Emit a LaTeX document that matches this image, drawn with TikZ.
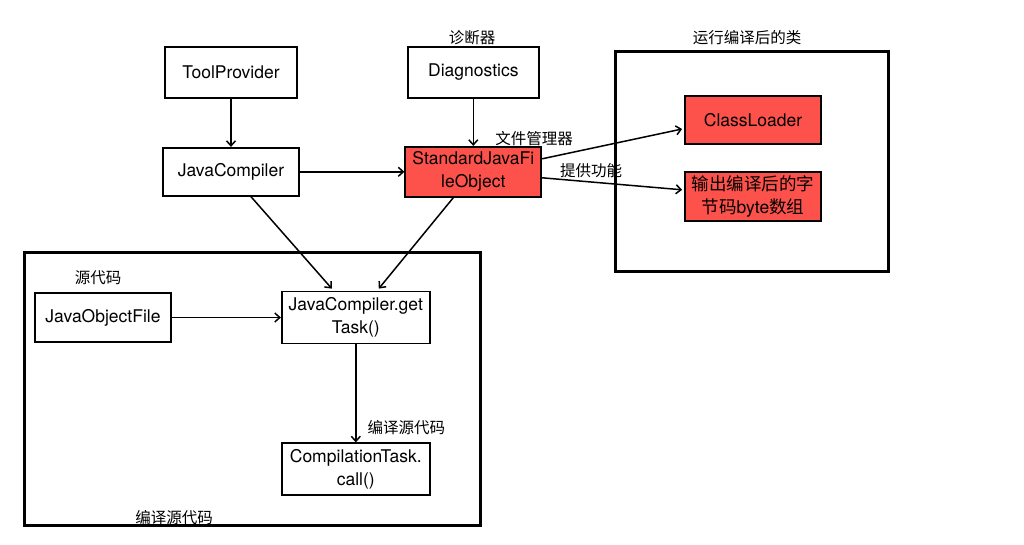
\documentclass[tikz,border=0pt]{standalone}
\usepackage{fontspec}
\setmainfont{TeX Gyre Heros}
\newfontfamily\cjk{Noto Sans CJK SC}
\usetikzlibrary{arrows.meta, positioning}
\definecolor{boxred}{RGB}{252,82,75}

\begin{document}
\begin{tikzpicture}[x=1pt, y=-1pt,
node distance = 48pt and 109pt,
box/.style = {draw, line width=1.8pt, fill=white,
              minimum width=136pt, minimum height=49pt,
              inner sep=2pt, align=center,
              font=\fontsize{17.5}{23}\selectfont},
redbox/.style = {box, fill=boxred},
frame/.style = {draw, line width=3pt},
lbl/.style = {inner sep=1pt, font=\cjk\fontsize{15.5}{17}\selectfont},
arr/.style = {line width=1.5pt, -{Straight Barb[length=5pt,width=9pt]}},
                    ]
%---
\useasboundingbox (0,0) rectangle (1024,545);

% frames
\node (runbox) [frame, minimum width=273pt, minimum height=219pt] at (751.5,161.5) {};
\node (runlbl) [lbl] at (747,38) {运行编译后的类};
\node (srcbox) [frame, minimum width=456pt, minimum height=273pt] at (252,388.5) {};
\node (srclbl) [lbl] at (174,518) {编译源代码};

\node (tool) [box, minimum width=132pt, minimum height=51pt] at (231,72.5) {ToolProvider};
\node (diag) [box, minimum width=131pt, minimum height=51pt, right=109pt of tool] {Diagnostics};
\node (diaglbl) [lbl] at (472,38) {诊断器};

\node (jc) [box, minimum height=48pt, below=48pt of tool] {JavaCompiler};
\node (sjfo) [redbox, minimum height=50pt, below=47pt of diag] {StandardJavaFi\\leObject};

\node (cl) [redbox, minimum height=48pt] at (753,120) {ClassLoader};
\node (out) [redbox, below=26pt of cl] {{\cjk 输出编译后的字}\\{\cjk 节码}byte{\cjk 数组}};

\node (jof) [box] at (103,317.5) {JavaObjectFile};
\node (joflbl) [lbl] at (98,278) {源代码};
\node (task) [box, minimum width=148pt, minimum height=52pt, right=109pt of jof] {JavaCompiler.get\\Task()};
\node (call) [box, minimum width=148pt, minimum height=52pt, below=98pt of task] {CompilationTask.\\call()};

\draw[arr] (tool) -- (jc);
\draw[arr] (diag) -- (sjfo);
\draw[arr] (jc) -- (sjfo);
\draw[arr] ([xshift=20pt]jc.south) -- ([xshift=-24pt,yshift=2pt]task.north);
\draw[arr] ([xshift=-20pt]sjfo.south) -- ([xshift=23pt,yshift=2pt]task.north);
\draw[arr] ([yshift=13pt]sjfo.east) -- node[lbl, pos=0, anchor=south, xshift=-8pt, yshift=11pt] {文件管理器} ([xshift=-2pt,yshift=-9pt]cl.west);
\draw[arr] ([yshift=-6pt]sjfo.east) -- node[lbl, pos=0.35, above=2pt] {提供功能} ([xshift=-2pt,yshift=6.5pt]out.west);
\draw[arr] (jof) -- (task);
\draw[arr] (task) -- node[lbl, right=10pt, pos=0.85] {编译源代码} (call);

\end{tikzpicture}
\end{document}
